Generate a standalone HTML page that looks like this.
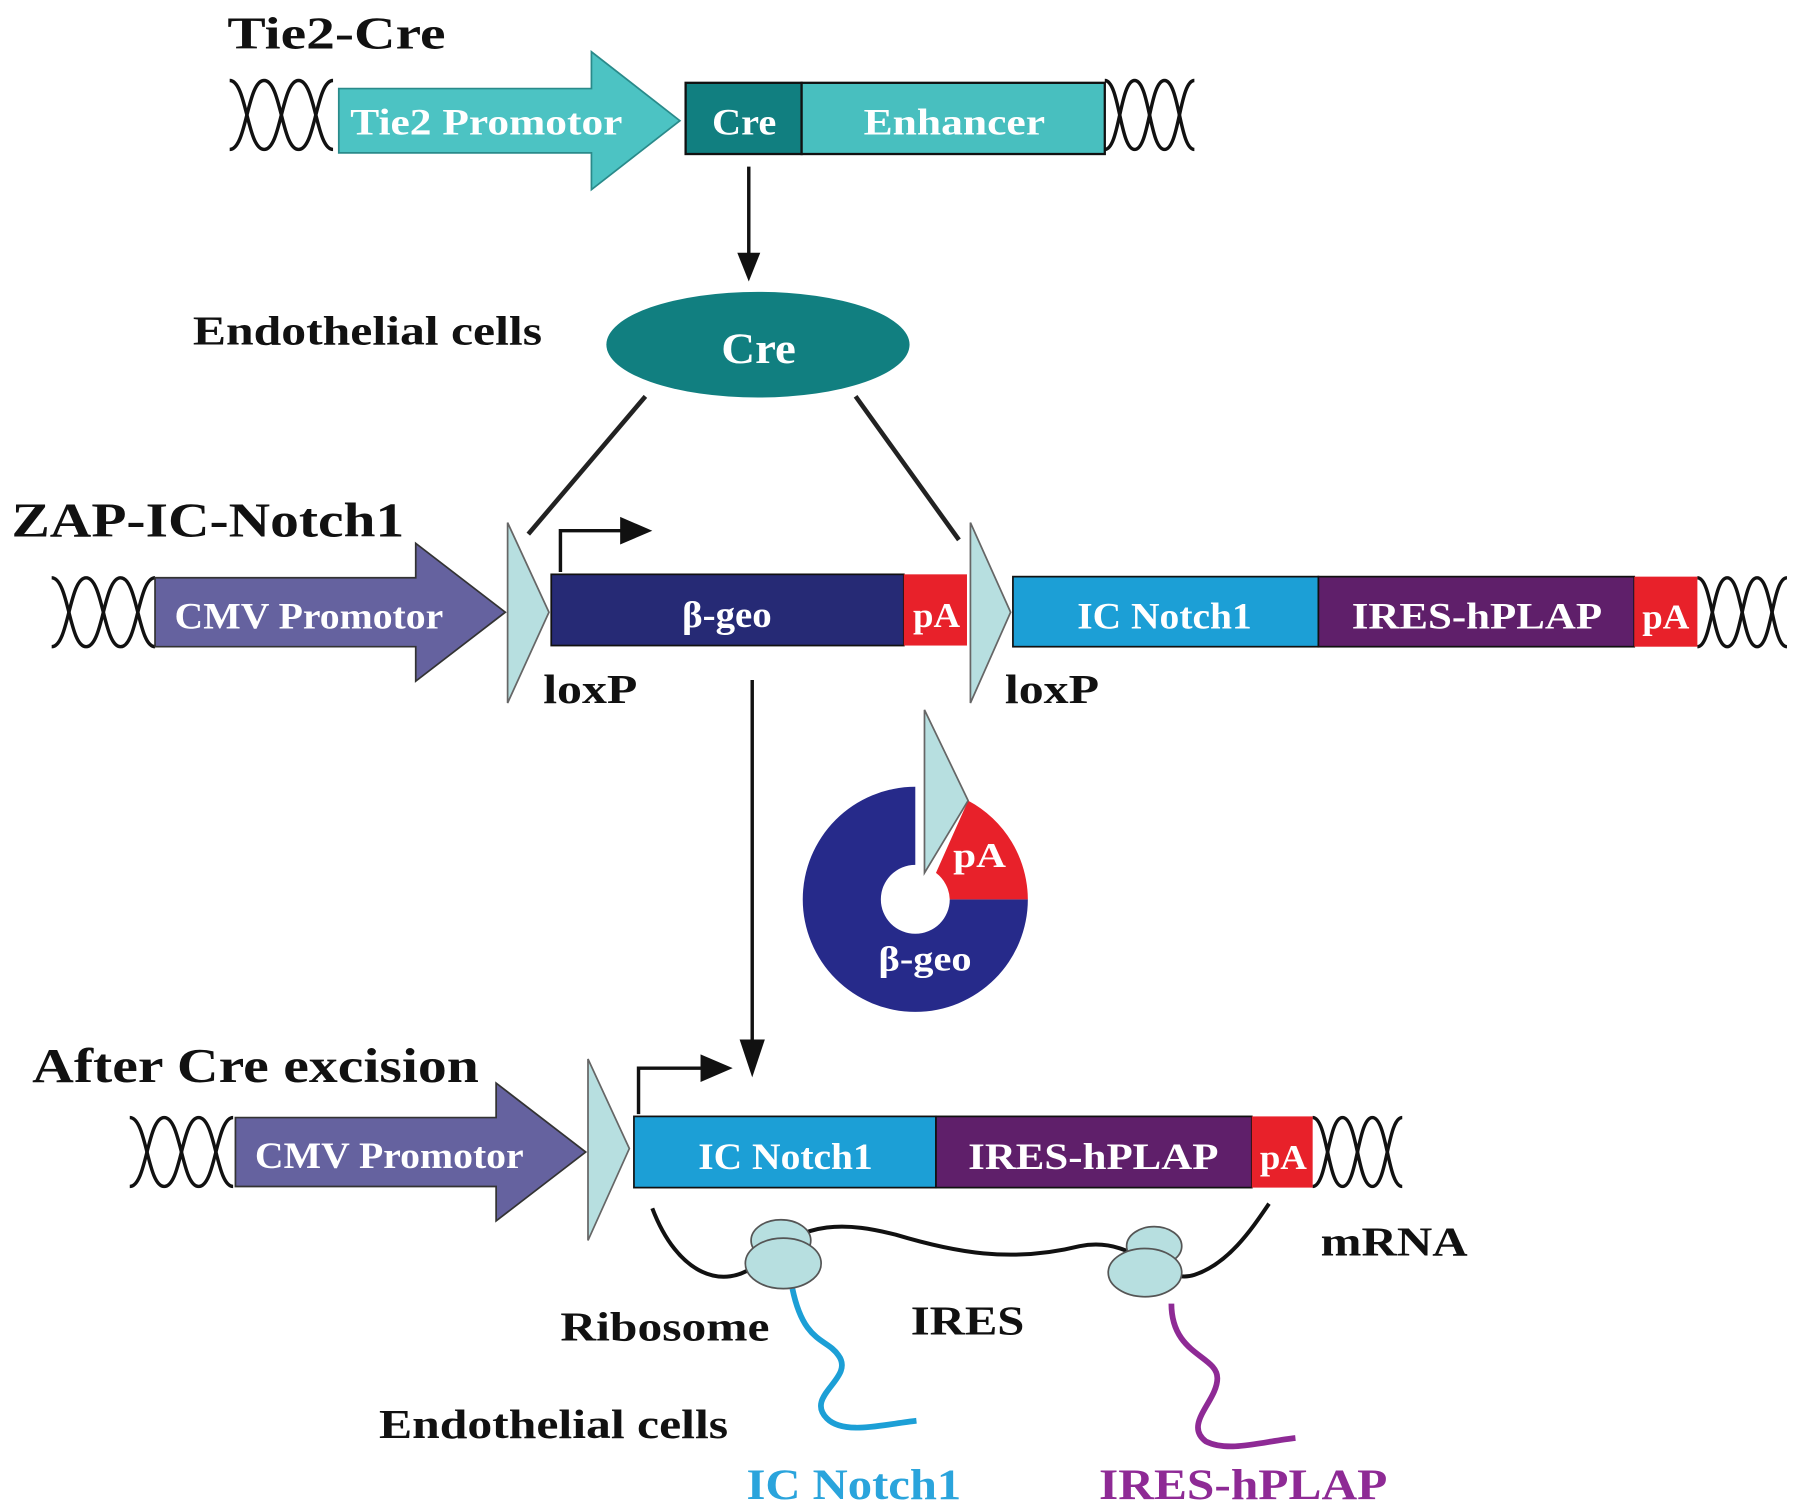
<!DOCTYPE html>
<html><head><meta charset="utf-8"><style>
html,body{margin:0;padding:0;background:#fff;}
svg{display:block;}
text{font-family:"Liberation Serif",serif;font-weight:bold;}
</style></head><body>
<svg width="1795" height="1507" viewBox="0 0 1563 1312" xmlns="http://www.w3.org/2000/svg">
<g fill="none" stroke="#111" stroke-width="3">
<path d="M200,70 C215,70 215,130 230,130 C245,130 245,70 260,70 C275,70 275,130 290,130"/>
<path d="M200,130 C215,130 215,70 230,70 C245,70 245,130 260,130 C275,130 275,70 290,70"/>
<path d="M962,70 C975,70 975,130 988,130 C1001,130 1001,70 1014,70 C1027,70 1027,130 1040,130"/>
<path d="M962,130 C975,130 975,70 988,70 C1001,70 1001,130 1014,130 C1027,130 1027,70 1040,70"/>
<path d="M45,503 C60,503 60,563 75,563 C90,563 90,503 105,503 C120,503 120,563 135,563"/>
<path d="M45,563 C60,563 60,503 75,503 C90,503 90,563 105,563 C120,563 120,503 135,503"/>
<path d="M1478,503 C1491,503 1491,563 1504,563 C1517,563 1517,503 1530,503 C1543,503 1543,563 1556,563"/>
<path d="M1478,563 C1491,563 1491,503 1504,503 C1517,503 1517,563 1530,563 C1543,563 1543,503 1556,503"/>
<path d="M113,973 C128,973 128,1033 143,1033 C158,1033 158,973 173,973 C188,973 188,1033 203,1033"/>
<path d="M113,1033 C128,1033 128,973 143,973 C158,973 158,1033 173,1033 C188,1033 188,973 203,973"/>
<path d="M1143,973 C1156,973 1156,1033 1169,1033 C1182,1033 1182,973 1195,973 C1208,973 1208,1033 1221,1033"/>
<path d="M1143,1033 C1156,1033 1156,973 1169,973 C1182,973 1182,1033 1195,1033 C1208,1033 1208,973 1221,973"/>
</g>
<text x="198" y="42" font-size="40" fill="#111" textLength="190" lengthAdjust="spacingAndGlyphs">Tie2-Cre</text>
<polygon points="295,77 515,77 515,45 592,105 515,165 515,133 295,133" fill="#4cc3c3" stroke="#2a8a8a" stroke-width="1.5"/>
<text x="305" y="117" font-size="32" fill="#fff" textLength="237" lengthAdjust="spacingAndGlyphs">Tie2 Promotor</text>
<rect x="597" y="72" width="101" height="62" fill="#117f80" stroke="#111" stroke-width="2"/>
<rect x="698" y="72" width="264" height="62" fill="#48bfbf" stroke="#111" stroke-width="2"/>
<text x="620" y="117" font-size="32" fill="#fff" textLength="56" lengthAdjust="spacingAndGlyphs">Cre</text>
<text x="752" y="117" font-size="32" fill="#fff" textLength="158" lengthAdjust="spacingAndGlyphs">Enhancer</text>
<line x1="652" y1="145" x2="652" y2="225" stroke="#111" stroke-width="3"/>
<polygon points="642,220 662,220 652,245" fill="#111"/>
<text x="168" y="300" font-size="36" fill="#111" textLength="304" lengthAdjust="spacingAndGlyphs">Endothelial cells</text>
<ellipse cx="660" cy="300" rx="132" ry="46" fill="#117f80"/>
<text x="628" y="316" font-size="38" fill="#fff" textLength="65" lengthAdjust="spacingAndGlyphs">Cre</text>
<line x1="562" y1="345" x2="460" y2="465" stroke="#222" stroke-width="4"/>
<line x1="745" y1="345" x2="835" y2="470" stroke="#222" stroke-width="4"/>
<text x="10" y="467" font-size="42" fill="#111" textLength="342" lengthAdjust="spacingAndGlyphs">ZAP-IC-Notch1</text>
<polygon points="135,503 362,503 362,473 440,533 362,593 362,563 135,563" fill="#65629f" stroke="#333" stroke-width="1.5"/>
<text x="152" y="547" font-size="32" fill="#fff" textLength="234" lengthAdjust="spacingAndGlyphs">CMV Promotor</text>
<polygon points="442,455 442,612 478,533" fill="#b7dfe0" stroke="#666" stroke-width="1.5"/>
<polyline points="488,498 488,462 545,462" fill="none" stroke="#111" stroke-width="3"/>
<polygon points="540,450 568,462 540,474" fill="#111"/>
<rect x="480" y="500" width="307" height="62" fill="#262a75" stroke="#111" stroke-width="1.5"/>
<text x="594" y="546" font-size="32" fill="#fff" textLength="78" lengthAdjust="spacingAndGlyphs">β-geo</text>
<rect x="787" y="500" width="55" height="62" fill="#e8212a"/>
<text x="795" y="546" font-size="30" fill="#fff" textLength="41" lengthAdjust="spacingAndGlyphs">pA</text>
<polygon points="845,455 845,612 880,533" fill="#b7dfe0" stroke="#666" stroke-width="1.5"/>
<rect x="882" y="502" width="266" height="61" fill="#1c9fd6" stroke="#111" stroke-width="1.5"/>
<text x="938" y="547" font-size="32" fill="#fff" textLength="152" lengthAdjust="spacingAndGlyphs">IC Notch1</text>
<rect x="1148" y="502" width="275" height="61" fill="#5f1f6a" stroke="#111" stroke-width="1.5"/>
<text x="1177" y="547" font-size="32" fill="#fff" textLength="218" lengthAdjust="spacingAndGlyphs">IRES-hPLAP</text>
<rect x="1423" y="502" width="55" height="61" fill="#e8212a"/>
<text x="1430" y="547" font-size="30" fill="#fff" textLength="41" lengthAdjust="spacingAndGlyphs">pA</text>
<text x="473" y="612" font-size="36" fill="#111" textLength="82" lengthAdjust="spacingAndGlyphs">loxP</text>
<text x="875" y="612" font-size="36" fill="#111" textLength="82" lengthAdjust="spacingAndGlyphs">loxP</text>
<line x1="655" y1="592" x2="655" y2="910" stroke="#111" stroke-width="3"/>
<polygon points="644,905 666,905 655,938" fill="#111"/>
<path d="M797,685 A98,98 0 1,0 895,783 L827,783 A30,30 0 1,1 797,753 Z" fill="#262a8a"/>
<path d="M843,697 A98,98 0 0,1 895,783 L827,783 A30,30 0 0,0 815,760 Z" fill="#e8212a"/>
<polygon points="805,618 805,760 843,697" fill="#b7dfe0" stroke="#666" stroke-width="1.5"/>
<text x="830" y="755" font-size="30" fill="#fff" textLength="46" lengthAdjust="spacingAndGlyphs">pA</text>
<text x="765" y="845" font-size="30" fill="#fff" textLength="81" lengthAdjust="spacingAndGlyphs">β-geo</text>
<text x="28" y="942" font-size="42" fill="#111" textLength="389" lengthAdjust="spacingAndGlyphs">After Cre excision</text>
<polygon points="205,973 432,973 432,943 510,1003 432,1063 432,1033 205,1033" fill="#65629f" stroke="#333" stroke-width="1.5"/>
<text x="222" y="1017" font-size="32" fill="#fff" textLength="234" lengthAdjust="spacingAndGlyphs">CMV Promotor</text>
<polygon points="512,922 512,1080 548,1000" fill="#b7dfe0" stroke="#666" stroke-width="1.5"/>
<polyline points="556,970 556,930 615,930" fill="none" stroke="#111" stroke-width="3"/>
<polygon points="610,918 638,930 610,942" fill="#111"/>
<rect x="552" y="972" width="263" height="62" fill="#1c9fd6" stroke="#111" stroke-width="1.5"/>
<text x="608" y="1018" font-size="32" fill="#fff" textLength="152" lengthAdjust="spacingAndGlyphs">IC Notch1</text>
<rect x="815" y="972" width="275" height="62" fill="#5f1f6a" stroke="#111" stroke-width="1.5"/>
<text x="843" y="1018" font-size="32" fill="#fff" textLength="218" lengthAdjust="spacingAndGlyphs">IRES-hPLAP</text>
<rect x="1090" y="972" width="53" height="62" fill="#e8212a"/>
<text x="1097" y="1018" font-size="30" fill="#fff" textLength="41" lengthAdjust="spacingAndGlyphs">pA</text>
<path d="M568,1052 C590,1110 630,1125 660,1100 C700,1060 740,1065 780,1075 C830,1090 880,1100 940,1085 C990,1075 1010,1120 1040,1110 C1070,1100 1090,1070 1105,1048" fill="none" stroke="#111" stroke-width="3.5"/>
<path d="M690,1122 C700,1170 720,1165 730,1180 C745,1200 700,1215 720,1235 C735,1250 770,1240 798,1237" fill="none" stroke="#1c9fd6" stroke-width="5"/>
<path d="M1020,1135 C1020,1180 1060,1180 1060,1200 C1060,1220 1030,1240 1050,1255 C1070,1265 1100,1255 1128,1252" fill="none" stroke="#8e2a95" stroke-width="5"/>
<g fill="#b7dfe0" stroke="#555" stroke-width="1.5">
<ellipse cx="680" cy="1080" rx="26" ry="18"/>
<ellipse cx="682" cy="1100" rx="33" ry="22"/>
<ellipse cx="1005" cy="1085" rx="24" ry="17"/>
<ellipse cx="997" cy="1108" rx="32" ry="21"/>
</g>
<text x="488" y="1167" font-size="36" fill="#111" textLength="182" lengthAdjust="spacingAndGlyphs">Ribosome</text>
<text x="793" y="1162" font-size="36" fill="#111" textLength="99" lengthAdjust="spacingAndGlyphs">IRES</text>
<text x="1150" y="1093" font-size="36" fill="#111" textLength="128" lengthAdjust="spacingAndGlyphs">mRNA</text>
<text x="330" y="1252" font-size="36" fill="#111" textLength="304" lengthAdjust="spacingAndGlyphs">Endothelial cells</text>
<text x="650" y="1305" font-size="38" fill="#2aa4dc" textLength="187" lengthAdjust="spacingAndGlyphs">IC Notch1</text>
<text x="957" y="1305" font-size="38" fill="#8e2a95" textLength="251" lengthAdjust="spacingAndGlyphs">IRES-hPLAP</text>
</svg>
</body></html>
